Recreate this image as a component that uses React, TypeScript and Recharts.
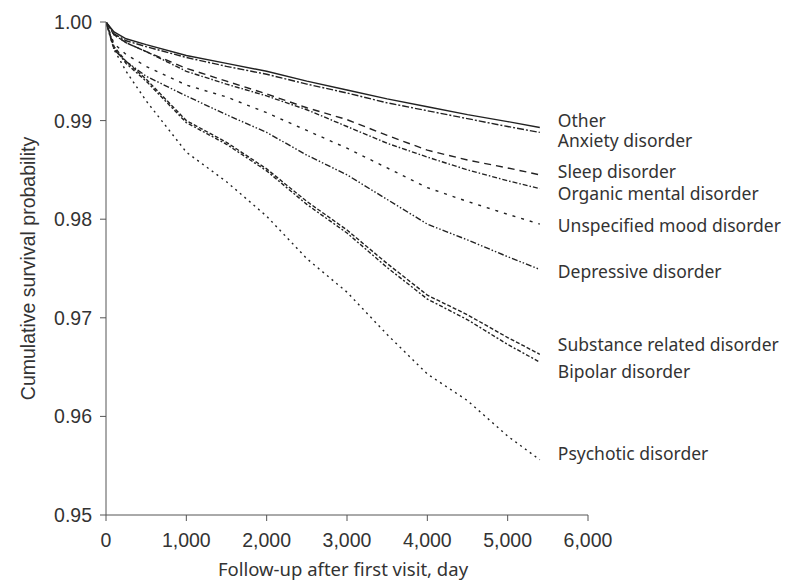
import React from 'react';
import { LineChart, Line, XAxis, YAxis, ReferenceDot } from 'recharts';

const days = [0, 100, 250, 500, 1000, 1500, 2000, 2500, 3000, 3500, 4000, 4500, 5000, 5400];

const other = [1, 0.999, 0.9983, 0.9977, 0.9966, 0.9958, 0.995, 0.994, 0.9931, 0.9922, 0.9914, 0.9906, 0.9899, 0.9893];
const anxiety = [1, 0.9988, 0.9981, 0.9975, 0.9964, 0.9955, 0.9947, 0.9937, 0.9928, 0.9918, 0.991, 0.9902, 0.9894, 0.9888];
const sleep = [1, 0.9987, 0.9979, 0.997, 0.9953, 0.994, 0.9927, 0.9913, 0.9901, 0.9885, 0.987, 0.986, 0.9852, 0.9845];
const organic = [1, 0.9987, 0.9979, 0.997, 0.995, 0.9937, 0.9925, 0.9911, 0.9894, 0.9877, 0.9863, 0.985, 0.9839, 0.9831];
const unspecified = [1, 0.9978, 0.9967, 0.9955, 0.9936, 0.9924, 0.9908, 0.989, 0.9872, 0.9852, 0.9832, 0.9818, 0.9805, 0.9795];
const depressive = [1, 0.9972, 0.996, 0.9945, 0.9925, 0.9906, 0.9888, 0.9865, 0.9845, 0.982, 0.9795, 0.9779, 0.9762, 0.9749];
const substance = [1, 0.9975, 0.996, 0.9942, 0.99, 0.9878, 0.9851, 0.9818, 0.9789, 0.9755, 0.9723, 0.9703, 0.968, 0.9663];
const bipolar = [1, 0.9974, 0.9958, 0.994, 0.9898, 0.9876, 0.9849, 0.9815, 0.9786, 0.9751, 0.9719, 0.9698, 0.9673, 0.9655];
const psychotic = [1, 0.9972, 0.995, 0.992, 0.9868, 0.9838, 0.9803, 0.976, 0.9726, 0.9683, 0.9643, 0.9616, 0.958, 0.9556];

const seriesKeys = ['other', 'anxiety', 'sleep', 'organic', 'unspecified', 'depressive', 'substance', 'bipolar', 'psychotic'];
const seriesValues = [other, anxiety, sleep, organic, unspecified, depressive, substance, bipolar, psychotic];
const seriesDash = ['', '7 2 2 2', '7 5', '5 2 1.5 2', '3 6', '6 2 1.5 2 1.5 2', '4 2', '2 2 4 2', '2 4'];

const labelNames = [
  'Other',
  'Anxiety disorder',
  'Sleep disorder',
  'Organic mental disorder',
  'Unspecified mood disorder',
  'Depressive disorder',
  'Substance related disorder',
  'Bipolar disorder',
  'Psychotic disorder',
];
const labelValues = [0.99, 0.988, 0.9848, 0.9826, 0.9793, 0.9747, 0.9673, 0.9645, 0.9562];
const labelDay = 5500;

const xTicks = [0, 1000, 2000, 3000, 4000, 5000, 6000];
const yTicks = [0.95, 0.96, 0.97, 0.98, 0.99, 1.0];

const data = days.map((d, i) => {
  const row: Record<string, number> = { day: d };
  seriesKeys.forEach((k, j) => {
    row[k] = seriesValues[j][i];
  });
  return row;
});

const tickFont = { fontFamily: 'Liberation Sans, Arial, sans-serif', fontSize: 19.5, fill: '#333' };
const titleFont = 'Noto Sans, Open Sans, sans-serif';

const YTitle = (props: any) => {
  const vb = props.viewBox || {};
  const cx = 20;
  const cy = vb.y + vb.height / 2;
  return (
    <text x={cx} y={cy} transform={`rotate(-90 ${cx} ${cy})`} textAnchor="middle" dominantBaseline="central"
      style={{ fontFamily: 'Liberation Sans, Arial, sans-serif', fontSize: 19.5, fill: '#333' }}>
      Cumulative survival probability
    </text>
  );
};

const XTitle = (props: any) => {
  const vb = props.viewBox || {};
  const cx = vb.x + vb.width / 2 - 4;
  const cy = 560;
  return (
    <text x={cx} y={cy} textAnchor="middle" dominantBaseline="central"
      style={{ fontFamily: titleFont, fontSize: 18.5, fill: '#333' }}>
      Follow-up after first visit, day
    </text>
  );
};

export default function App() {
  return (
    <LineChart width={781} height={576} data={data} margin={{ top: 14, right: 201, bottom: 0, left: 38 }}>
      <XAxis
        dataKey="day"
        type="number"
        domain={[0, 6000]}
        ticks={xTicks}
        tickFormatter={(v: number) => v.toLocaleString('en-US')}
        tick={tickFont}
        tickSize={6}
        tickMargin={12}
        stroke="#555"
        height={69}
        label={{ content: XTitle }}
        allowDataOverflow
      />
      <YAxis
        type="number"
        domain={[0.95, 1.0]}
        ticks={yTicks}
        tickFormatter={(v: number) => v.toFixed(2)}
        tick={tickFont}
        tickSize={6}
        tickMargin={8}
        stroke="#555"
        width={60}
        label={{ content: YTitle }}
        allowDataOverflow
      />
      {seriesKeys.map((k, j) => (
        <Line
          key={k}
          dataKey={k}
          type="linear"
          stroke="#222"
          strokeWidth={1.4}
          strokeDasharray={seriesDash[j] || undefined}
          dot={false}
          isAnimationActive={false}
        />
      ))}
      {labelNames.map((name, j) => (
        <ReferenceDot
          key={name}
          x={labelDay}
          y={labelValues[j]}
          r={0}
          fill="none"
          stroke="none"
          ifOverflow="visible"
          label={{ value: name, position: 'right', offset: 10, fill: '#333', fontSize: 17.5, fontFamily: titleFont }}
        />
      ))}
    </LineChart>
  );
}
